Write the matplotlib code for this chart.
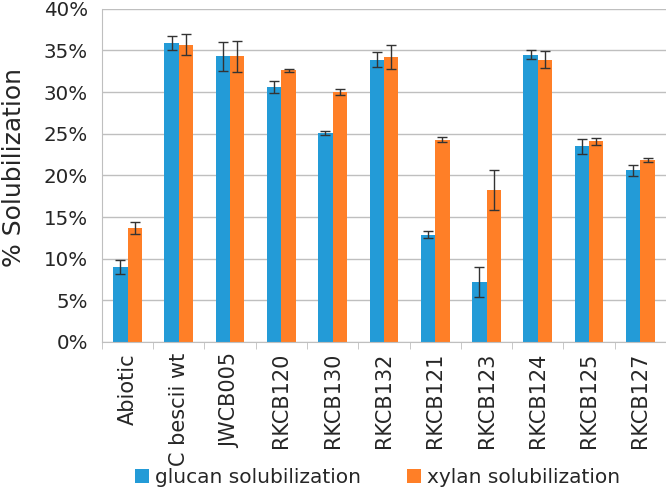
import matplotlib
matplotlib.use("Agg")
import matplotlib.pyplot as plt
import numpy as np
from matplotlib.ticker import FuncFormatter, FixedLocator

strains = ["Abiotic", "C bescii wt", "JWCB005", "RKCB120", "RKCB130", "RKCB132",
           "RKCB121", "RKCB123", "RKCB124", "RKCB125", "RKCB127"]
glucan = [9.0, 35.9, 34.3, 30.6, 25.1, 33.9, 12.9, 7.2, 34.5, 23.5, 20.6]
glucan_err = [0.9, 0.9, 1.75, 0.7, 0.2, 0.9, 0.4, 1.8, 0.5, 0.9, 0.65]
xylan = [13.7, 35.7, 34.3, 32.6, 30.0, 34.2, 24.3, 18.3, 33.9, 24.1, 21.8]
xylan_err = [0.7, 1.25, 1.85, 0.18, 0.4, 1.4, 0.3, 2.4, 1.05, 0.45, 0.25]

BLUE = "#239bd7"
ORANGE = "#ff7f27"
GRID = "#bfbfbf"
TXT = "#262626"

plt.rcParams.update({"font.family": "DejaVu Sans", "text.color": TXT,
                     "axes.labelcolor": TXT, "xtick.color": TXT, "ytick.color": TXT})

fig = plt.figure(figsize=(6.66, 4.92), dpi=100)
ax = fig.add_axes([0.153, 0.305, 0.847, 0.677])

x = np.arange(len(strains))
w = 0.28
err_kw = dict(ecolor="#333333", elinewidth=1.0, capsize=3.5, capthick=1.0)
ax.bar(x - w / 2, glucan, w, yerr=glucan_err, color=BLUE, label="glucan solubilization",
       error_kw=err_kw, zorder=2)
ax.bar(x + w / 2, xylan, w, yerr=xylan_err, color=ORANGE, label="xylan solubilization",
       error_kw=err_kw, zorder=2)

ax.set_xlim(-0.5, len(strains) - 0.5)
ax.set_ylim(0, 40)
ax.set_yticks(np.arange(0, 41, 5))
ax.yaxis.set_major_formatter(FuncFormatter(lambda v, _: f"{v:.0f}%"))
ax.grid(axis="y", color=GRID, lw=1.0, zorder=0)
ax.set_axisbelow(True)

ax.set_xticks(x)
ax.set_xticklabels(strains, rotation=90, fontsize=15)
ax.tick_params(axis="x", which="major", length=0, pad=8)
ax.xaxis.set_minor_locator(FixedLocator(np.arange(-0.5, len(strains), 1.0)))
ax.tick_params(axis="x", which="minor", length=5, color=GRID)
ax.tick_params(axis="y", length=0, labelsize=14.3, pad=10)

for s in ["top", "right"]:
    ax.spines[s].set_visible(False)
ax.spines["left"].set_color(GRID)
ax.spines["bottom"].set_color(GRID)

ax.set_ylabel("% Solubilization", fontsize=18)
ax.yaxis.set_label_coords(-0.135, 0.525)

fig.legend(loc="center", bbox_to_anchor=(0.567, 0.03), ncol=2, frameon=False,
           fontsize=14.5, handlelength=0.7, handleheight=0.7, handletextpad=0.3,
           columnspacing=2.3)

fig.savefig("out.png", dpi=100)
